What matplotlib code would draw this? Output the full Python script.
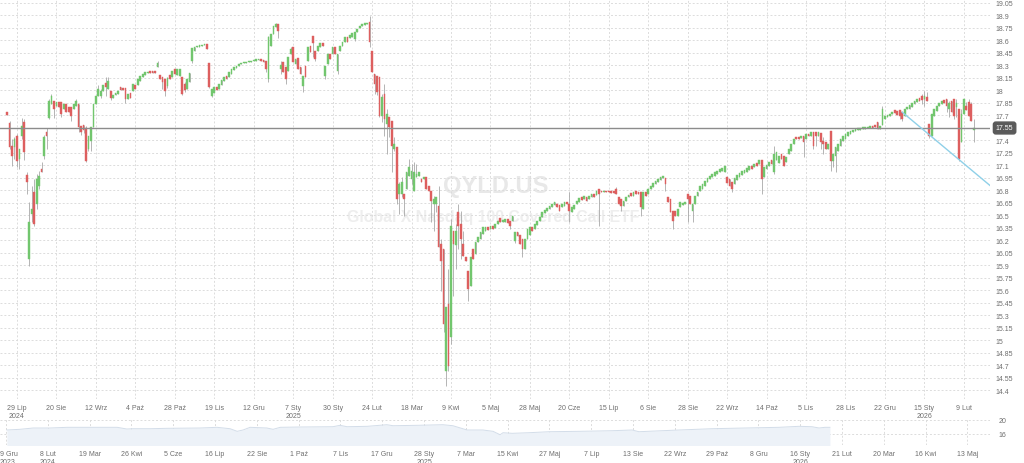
import matplotlib.pyplot as plt
import matplotlib.transforms as mtransforms
import numpy as np

plt.rcParams['font.family'] = ['Liberation Sans', 'DejaVu Sans']

# dzienne świece QYLD.US (indeks = kolejny dzień sesyjny)
opens = [
    17.74, 17.61, 17.33, 17.32, 17.45, 17.18, 17.45, 17.62, 16.99, 15.98,
    16.52, 16.78, 16.64, 16.85, 17.06, 17.21, 17.50, 17.67, 17.84, 17.87,
    17.81, 17.86, 17.86, 17.78, 17.84, 17.80, 17.80, 17.78, 17.81, 17.84,
    17.57, 17.59, 17.55, 17.30, 17.39, 17.56, 17.84, 17.93, 17.93, 17.99,
    18.09, 18.02, 17.99, 17.91, 17.95, 17.96, 18.04, 18.03, 18.03, 17.90,
    17.97, 17.99, 18.07, 18.07, 18.11, 18.16, 18.19, 18.21, 18.23, 18.23,
    18.23, 18.28, 18.19, 18.16, 18.14, 18.05, 18.19, 18.16, 18.26, 18.19,
    18.17, 18.16, 18.08, 18.02, 18.10, 18.35, 18.47, 18.52, 18.52, 18.53,
    18.55, 18.56, 18.33, 17.93, 17.97, 18.04, 18.02, 18.07, 18.11, 18.17,
    18.16, 18.20, 18.25, 18.27, 18.29, 18.32, 18.33, 18.33, 18.34, 18.34,
    18.35, 18.35, 18.37, 18.38, 18.37, 18.35, 18.14, 18.53, 18.68, 18.76,
    18.80, 18.26, 18.34, 18.28, 18.23, 18.44, 18.52, 18.32, 18.39, 18.28,
    18.05, 18.29, 18.35, 18.53, 18.65, 18.47, 18.47, 18.52, 18.57, 18.17,
    18.32, 18.44, 18.44, 18.52, 18.23, 18.47, 18.53, 18.58, 18.64, 18.63,
    18.64, 18.62, 18.70, 18.75, 18.77, 18.79, 18.80, 18.82, 18.47, 18.20,
    18.17, 18.16, 17.69, 17.96, 17.60, 17.68, 17.63, 17.30, 17.32, 16.76,
    16.76, 16.76, 16.82, 16.97, 16.94, 16.79, 16.96, 16.97, 16.94, 16.94,
    16.96, 16.85, 16.79, 16.64, 16.64, 16.61, 16.16, 16.10, 14.63, 15.44,
    15.04, 16.31, 16.14, 16.54, 16.40, 16.16, 16.00, 15.83, 15.65, 16.10,
    16.04, 16.18, 16.22, 16.28, 16.31, 16.36, 16.34, 16.37, 16.35, 16.40,
    16.47, 16.42, 16.42, 16.46, 16.43, 16.43, 16.19, 16.30, 16.27, 16.22,
    16.10, 16.22, 16.27, 16.36, 16.34, 16.39, 16.43, 16.48, 16.53, 16.55,
    16.58, 16.60, 16.63, 16.64, 16.63, 16.60, 16.61, 16.66, 16.64, 16.54,
    16.58, 16.64, 16.66, 16.72, 16.70, 16.72, 16.70, 16.72, 16.76, 16.75,
    16.82, 16.79, 16.78, 16.79, 16.79, 16.79, 16.79, 16.82, 16.72, 16.70,
    16.61, 16.67, 16.72, 16.77, 16.73, 16.79, 16.78, 16.78, 16.58, 16.78,
    16.76, 16.82, 16.84, 16.88, 16.90, 16.93, 16.95, 16.95, 16.72, 16.70,
    16.55, 16.55, 16.49, 16.60, 16.63, 16.64, 16.76, 16.73, 16.55, 16.64,
    16.73, 16.79, 16.82, 16.85, 16.90, 16.94, 16.96, 16.97, 17.00, 17.02,
    17.03, 17.02, 16.96, 16.94, 16.90, 16.88, 16.93, 16.96, 16.99, 17.01,
    17.02, 17.05, 17.09, 17.08, 17.13, 17.12, 17.16, 16.96, 17.06, 17.09,
    17.16, 17.02, 17.16, 17.13, 17.24, 17.21, 17.14, 17.24, 17.27, 17.36,
    17.44, 17.44, 17.43, 17.45, 17.42, 17.48, 17.45, 17.50, 17.50, 17.45,
    17.49, 17.39, 17.38, 17.30, 17.51, 17.15, 17.21, 17.27, 17.33, 17.39,
    17.42, 17.45, 17.48, 17.50, 17.51, 17.53, 17.53, 17.54, 17.54, 17.55,
    17.55, 17.57, 17.59, 17.62, 17.54, 17.59, 17.66, 17.68, 17.69, 17.72,
    17.77, 17.75, 17.77, 17.74, 17.69, 17.78, 17.78, 17.80, 17.84, 17.86,
    17.91, 17.93, 17.90, 17.92, 17.60, 17.45, 17.69, 17.75, 17.81, 17.84,
    17.89, 17.90, 17.78, 17.87, 17.90, 17.80, 17.78, 17.38, 17.72, 17.81,
    17.86, 17.84, 17.53,
]
closes = [
    17.71, 17.32, 17.21, 17.42, 17.15, 17.30, 17.57, 17.26, 16.90, 16.42,
    16.58, 16.40, 16.94, 16.97, 17.02, 17.44, 17.45, 17.87, 17.93, 17.78,
    17.86, 17.80, 17.72, 17.84, 17.74, 17.74, 17.69, 17.84, 17.87, 17.56,
    17.50, 17.53, 17.15, 17.45, 17.56, 17.84, 17.93, 18.02, 17.99, 18.07,
    18.04, 18.11, 17.91, 17.95, 17.97, 17.99, 18.01, 18.01, 17.90, 17.96,
    17.91, 18.08, 18.02, 18.14, 18.17, 18.20, 18.22, 18.22, 18.21, 18.21,
    18.21, 18.33, 18.14, 18.10, 17.99, 18.15, 18.14, 18.23, 18.20, 18.26,
    18.26, 17.96, 18.01, 18.14, 18.21, 18.51, 18.52, 18.53, 18.55, 18.55,
    18.56, 18.50, 18.04, 18.02, 18.04, 18.01, 18.08, 18.13, 18.16, 18.14,
    18.22, 18.26, 18.28, 18.29, 18.32, 18.33, 18.34, 18.34, 18.35, 18.35,
    18.37, 18.38, 18.38, 18.35, 18.34, 18.26, 18.64, 18.68, 18.77, 18.80,
    18.71, 18.31, 18.22, 18.14, 18.40, 18.50, 18.34, 18.38, 18.26, 18.20,
    18.17, 18.16, 18.52, 18.46, 18.57, 18.38, 18.53, 18.57, 18.53, 18.29,
    18.44, 18.38, 18.52, 18.44, 18.44, 18.53, 18.58, 18.64, 18.58, 18.67,
    18.69, 18.70, 18.74, 18.77, 18.80, 18.81, 18.81, 18.58, 18.22, 18.08,
    17.98, 17.69, 17.92, 17.66, 17.72, 17.56, 17.33, 17.36, 16.70, 16.88,
    16.90, 16.70, 17.02, 17.08, 17.03, 17.02, 17.00, 17.02, 16.90, 16.96,
    16.82, 16.79, 16.67, 16.70, 16.72, 16.12, 15.95, 15.20, 15.40, 14.69,
    16.37, 16.16, 16.31, 16.37, 16.22, 16.01, 15.95, 15.62, 16.00, 15.98,
    16.18, 16.24, 16.30, 16.36, 16.36, 16.33, 16.37, 16.34, 16.40, 16.43,
    16.42, 16.45, 16.46, 16.41, 16.37, 16.49, 16.30, 16.25, 16.16, 16.10,
    16.22, 16.34, 16.36, 16.31, 16.40, 16.43, 16.48, 16.54, 16.57, 16.59,
    16.61, 16.64, 16.66, 16.60, 16.55, 16.64, 16.66, 16.64, 16.55, 16.60,
    16.63, 16.67, 16.71, 16.69, 16.73, 16.67, 16.73, 16.76, 16.72, 16.79,
    16.76, 16.78, 16.79, 16.78, 16.78, 16.77, 16.77, 16.76, 16.64, 16.61,
    16.67, 16.72, 16.75, 16.73, 16.78, 16.76, 16.76, 16.60, 16.78, 16.73,
    16.82, 16.85, 16.89, 16.91, 16.94, 16.96, 16.97, 16.88, 16.66, 16.54,
    16.43, 16.49, 16.58, 16.66, 16.65, 16.66, 16.70, 16.64, 16.64, 16.73,
    16.78, 16.85, 16.88, 16.91, 16.95, 16.97, 17.00, 17.02, 17.03, 17.06,
    17.07, 17.09, 16.89, 16.85, 16.82, 16.95, 16.99, 17.01, 17.03, 17.05,
    17.07, 17.09, 17.06, 17.12, 17.09, 17.16, 16.94, 17.08, 17.11, 17.14,
    17.12, 17.24, 17.26, 17.21, 17.18, 17.09, 17.20, 17.30, 17.36, 17.42,
    17.42, 17.42, 17.45, 17.38, 17.48, 17.45, 17.50, 17.33, 17.45, 17.50,
    17.38, 17.36, 17.30, 17.36, 17.15, 17.24, 17.32, 17.36, 17.42, 17.45,
    17.48, 17.50, 17.51, 17.53, 17.54, 17.55, 17.55, 17.56, 17.56, 17.56,
    17.57, 17.55, 17.56, 17.54, 17.57, 17.78, 17.69, 17.71, 17.72, 17.74,
    17.73, 17.71, 17.69, 17.66, 17.78, 17.80, 17.83, 17.85, 17.87, 17.90,
    17.87, 17.89, 17.93, 17.87, 17.45, 17.72, 17.78, 17.81, 17.85, 17.87,
    17.85, 17.81, 17.85, 17.74, 17.69, 17.85, 17.18, 17.72, 17.90, 17.76,
    17.69, 17.63, 17.55,
]
# knoty wystające poza korpus (indeks świecy: cena)
wick_high = {1: 17.63, 2: 17.42, 3: 17.44, 4: 17.48, 6: 17.67, 7: 17.66, 8: 17.02, 9: 16.66,
             10: 16.85, 11: 16.94, 12: 17.00, 13: 17.03, 14: 17.14, 15: 17.47, 16: 17.55,
             17: 17.90, 18: 17.96, 28: 17.90, 32: 17.57, 37: 18.07, 38: 18.02, 40: 18.16,
             41: 18.16, 61: 18.35, 65: 18.16, 72: 18.10, 106: 18.65, 109: 18.81, 111: 18.35,
             115: 18.52, 147: 18.89, 152: 17.96, 153: 18.08, 154: 17.78, 157: 17.44, 159: 16.90,
             160: 16.96, 163: 17.18, 164: 17.12, 165: 17.14, 166: 17.12, 173: 16.73, 175: 16.85,
             176: 16.22, 179: 15.86, 180: 16.46, 182: 16.40, 183: 16.64, 184: 16.55, 185: 16.31,
             228: 16.78, 247: 16.84, 311: 17.33, 331: 17.44, 355: 17.81, 371: 17.96, 372: 17.99,
             373: 17.98, 382: 17.87, 385: 17.90, 387: 17.78, 389: 17.86, 390: 17.90, 391: 17.86,
             392: 17.66}
wick_low = {1: 17.30, 2: 17.09, 3: 17.18, 4: 17.08, 5: 17.06, 6: 17.42, 7: 17.17, 8: 16.76,
            9: 15.89, 10: 16.42, 11: 16.37, 12: 16.58, 13: 16.82, 15: 17.18, 16: 17.30, 17: 17.66,
            19: 17.67, 22: 17.68, 26: 17.63, 29: 17.50, 30: 17.47, 31: 17.49, 32: 17.14, 33: 17.27,
            34: 17.27, 38: 17.91, 40: 17.93, 42: 17.89, 48: 17.85, 63: 18.02, 64: 17.93, 65: 18.03,
            71: 17.95, 72: 17.98, 75: 18.33, 82: 18.03, 83: 17.92, 105: 18.22, 106: 18.10,
            110: 18.63, 111: 18.20, 113: 18.08, 120: 17.98, 124: 18.40, 125: 18.35, 129: 18.14,
            134: 18.20, 141: 18.59, 147: 18.52, 149: 17.96, 150: 17.95, 151: 17.68, 152: 17.62,
            153: 17.45, 154: 17.24, 155: 17.44, 156: 17.02, 157: 17.27, 158: 16.64, 159: 16.52,
            160: 16.72, 161: 16.49, 164: 16.88, 172: 16.42, 173: 16.31, 174: 16.54, 176: 15.59,
            177: 15.10, 178: 14.45, 179: 14.63, 180: 14.96, 181: 15.54, 182: 15.86, 183: 16.10,
            184: 15.98, 187: 15.47, 204: 16.34, 206: 16.17, 209: 16.00, 228: 16.42, 240: 16.37,
            249: 16.55, 257: 16.49, 267: 16.79, 270: 16.34, 276: 16.42, 278: 16.42, 294: 16.78,
            306: 16.76, 311: 17.00, 323: 17.20, 327: 17.30, 328: 17.33, 330: 17.30, 331: 17.24,
            334: 17.03, 335: 17.08, 336: 17.02, 362: 17.66, 363: 17.63, 371: 17.84, 372: 17.81,
            374: 17.43, 381: 17.74, 382: 17.68, 384: 17.66, 385: 17.68, 386: 17.15, 392: 17.38}

date_labels = ["29 Lip\n2024", "20 Sie", "12 Wrz", "4 Paź", "28 Paź", "19 Lis", "12 Gru",
               "7 Sty\n2025", "30 Sty", "24 Lut", "18 Mar", "9 Kwi", "5 Maj", "28 Maj",
               "20 Cze", "15 Lip", "6 Sie", "28 Sie", "22 Wrz", "14 Paź", "5 Lis", "28 Lis",
               "22 Gru", "15 Sty\n2026", "9 Lut"]
date_pos = list(range(4, 389, 16))

# linia trendu (indeks, cena)
trend_x = [363, 398.6]
trend_y = [17.74, 16.86]

# nawigator na dole
nav_t = [0.02, 0.33, 0.65, 1.05, 1.46, 2.01, 2.66, 2.89, 3.04, 3.44, 3.85, 4.64, 5.05,
         5.36, 5.53, 5.67, 5.84, 6.24, 6.39, 6.56, 7.03, 7.82, 7.99, 8.16, 8.64, 9.11,
         9.26, 9.83, 10.45, 10.69, 11.03, 11.41, 11.65, 11.82, 11.89, 12.11, 12.51, 12.99,
         13.71, 14.50, 14.98, 15.14, 15.69, 16.10, 16.89, 17.68, 18.49, 18.97, 19.28,
         19.45, 19.59, 19.71]
nav_v = [17.12, 17.31, 17.68, 17.68, 17.87, 17.87, 17.87, 17.40, 17.48, 17.48, 17.59, 17.68,
         17.87, 17.48, 16.75, 17.12, 17.87, 17.68, 17.31, 17.87, 17.96, 18.04, 18.43, 18.04,
         18.15, 18.60, 18.32, 18.43, 18.60, 18.32, 17.12, 17.12, 16.75, 15.80, 16.36, 16.19,
         16.36, 16.64, 16.75, 16.92, 17.12, 16.64, 16.92, 17.12, 17.48, 17.68, 17.87, 18.15,
         18.04, 17.68, 17.87, 17.87]
nav_labels = ["9 Gru\n2023", "8 Lut\n2024", "19 Mar", "26 Kwi", "5 Cze", "16 Lip", "22 Sie",
              "1 Paź", "7 Lis", "17 Gru", "28 Sty\n2025", "7 Mar", "15 Kwi", "27 Maj", "7 Lip",
              "13 Sie", "22 Wrz", "29 Paź", "8 Gru", "16 Sty\n2026", "21 Lut", "20 Mar",
              "16 Kwi", "13 Maj"]

GREEN = '#72c66e'
RED = '#dd5f5f'
GRID = '#dcdcdc'
TXT = '#6e6e6e'

fig = plt.figure(figsize=(10.24, 4.64), dpi=100)
ax = fig.add_axes([0, 1 - 400 / 464, 990 / 1024, 400 / 464])

o = np.array(opens)
c = np.array(closes)
idx = np.arange(len(c))
hi = np.maximum(o, c)
lo = np.minimum(o, c)
for k, v in wick_high.items():
    hi[k] = v
for k, v in wick_low.items():
    lo[k] = v
col = np.where(c >= o, GREEN, RED)

# znak wodny
ax.text(0.501, 0.534, 'QYLD.US', transform=ax.transAxes, ha='center', va='center',
        fontsize=17, fontweight='bold', color='#e8e8e8', zorder=0)
ax.text(0.4985, 0.455, 'Global X Nasdaq 100 Covered Call ETF', transform=ax.transAxes,
        ha='center', va='center', fontsize=11.4, fontweight='bold', color='#eeeeee', zorder=0)

ax.vlines(idx, lo, hi, color='#a8a8a8', lw=0.6, zorder=2)
ax.bar(idx, c - o, bottom=o, width=0.7, color=col, edgecolor=col, linewidth=0.3, zorder=3)

ax.axhline(closes[-1], color='#8c8c8c', lw=1, zorder=4)
ax.plot(trend_x, trend_y, color='#8fd0e8', lw=1, zorder=4)

ax.set_xlim(-2.88, 398.6)
ax.set_ylim(14.298, 19.098)
yt = np.arange(14.4, 19.06, 0.15)
ax.set_yticks(yt)
ax.set_yticklabels(['{:g}'.format(round(v, 2)) for v in yt])
ax.yaxis.tick_right()
ax.set_xticks(date_pos)
ax.set_xticklabels(date_labels)
ax.tick_params(axis='y', length=0, pad=4, labelsize=5, labelcolor=TXT)
ax.tick_params(axis='x', length=0, pad=3.5, labelsize=5, labelcolor=TXT)
ax.grid(True, color=GRID, lw=0.7, linestyle=(0, (2, 2)), zorder=1)
ax.set_axisbelow(True)
for s in ax.spines.values():
    s.set_visible(False)

ax.annotate('{:.2f}'.format(closes[-1]), xy=(1.0, closes[-1]), xycoords=('axes fraction', 'data'),
            xytext=(4.2, 0), textcoords='offset points', ha='left', va='center', fontsize=5,
            color='white', annotation_clip=False, zorder=10,
            bbox=dict(boxstyle='round,pad=0.35', fc='#5a5a5a', ec='#5a5a5a'))

# nawigator
nax = fig.add_axes([0, 1 - 446 / 464, 990 / 1024, 27 / 464])
nax.fill_between(nav_t, nav_v, 12.0, color='#edf2f8', lw=0, zorder=2)
nax.plot(nav_t, nav_v, color='#d3dde9', lw=0.7, zorder=3)
nax.set_xlim(-0.144, 23.54)
nax.set_ylim(12.92, 20.48)
nax.set_yticks([16, 20])
nax.yaxis.tick_right()
nax.set_xticks(range(len(nav_labels)))
nax.set_xticklabels(nav_labels)
nax.tick_params(axis='y', length=0, pad=6, labelsize=5, labelcolor=TXT)
nax.tick_params(axis='x', length=0, pad=3.5, labelsize=5, labelcolor=TXT)
nax.grid(True, color=GRID, lw=0.7, linestyle=(0, (2, 2)), zorder=1)
nax.set_axisbelow(True)
for s in nax.spines.values():
    s.set_visible(False)

# pierwszy podpis nawigatora przy lewej krawędzi
first = nax.get_xticklabels()[0]
first.set_ha('left')
first.set_transform(first.get_transform()
                    + mtransforms.ScaledTranslation(-6 / 100, 0, fig.dpi_scale_trans))

fig.savefig('out.png', dpi=100)
